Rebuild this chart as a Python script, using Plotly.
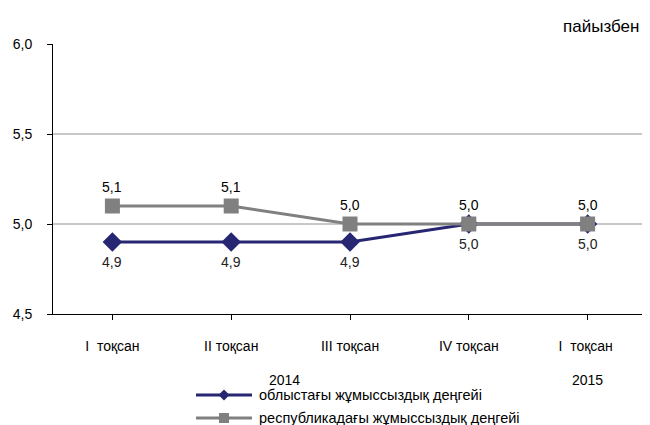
import plotly.graph_objects as go

categories = ["I  тоқсан", "II тоқсан", "III тоқсан", "IV тоқсан", "I  тоқсан "]
years = ["2014", "2015"]
oblast = [4.9, 4.9, 4.9, 5.0, 5.0]
republic = [5.1, 5.1, 5.0, 5.0, 5.0]
name_oblast = "облыстағы жұмыссыздық деңгейі"
name_rep = "республикадағы жұмыссыздық деңгейі"

BLUE = "#262673"
GRAY = "#808080"
FONT = "Liberation Sans, Arial, sans-serif"

x_idx = list(range(len(categories)))

fig = go.Figure()
fig.add_trace(go.Scatter(
    x=x_idx, y=oblast, mode="lines+markers", name=name_oblast,
    line=dict(color=BLUE, width=3),
    marker=dict(symbol="diamond", size=15, color=BLUE),
    showlegend=False,
))
fig.add_trace(go.Scatter(
    x=x_idx, y=republic, mode="lines+markers", name=name_rep,
    line=dict(color=GRAY, width=3),
    marker=dict(symbol="square", size=15, color=GRAY),
    showlegend=False,
))

def fmt(v):
    return f"{v:.1f}".replace(".", ",")

annotations = []
for i, v in enumerate(republic):
    annotations.append(dict(x=i, y=v, text=fmt(v), showarrow=False, yshift=19,
                            font=dict(family=FONT, size=14, color="#000000")))
for i, v in enumerate(oblast):
    annotations.append(dict(x=i, y=v, text=fmt(v), showarrow=False, yshift=-20,
                            font=dict(family=FONT, size=14, color="#222222")))
annotations.append(dict(x=1.45, y=-0.245, yref="paper", yanchor="middle", text=years[0],
                        showarrow=False, font=dict(family=FONT, size=14, color="#000000")))
annotations.append(dict(x=4, y=-0.245, yref="paper", yanchor="middle", text=years[1],
                        showarrow=False, font=dict(family=FONT, size=14, color="#000000")))
annotations.append(dict(x=1.0, y=1.0, xref="paper", yref="paper", xanchor="right", yanchor="bottom",
                        yshift=6, xshift=-6, text="пайызбен", showarrow=False,
                        font=dict(family=FONT, size=17, color="#000000")))

# custom legend (paper coordinates; plot area spans 594 x 270 px)
PW, PH = 594.0, 270.0
def px_x(p):
    return (p - 53) / PW
def px_y(p):
    return (314 - p) / PH

shapes = []
legend_items = [
    (name_oblast, BLUE, "diamond", 395),
    (name_rep, GRAY, "square", 418),
]
for name, color, sym, yy in legend_items:
    shapes.append(dict(type="line", xref="paper", yref="paper",
                       x0=px_x(196), x1=px_x(252), y0=px_y(yy), y1=px_y(yy),
                       line=dict(color=color, width=3)))
    cx, cy = 224, yy
    if sym == "diamond":
        h = 5.5
        path = (f"M {px_x(cx - h)} {px_y(cy)} L {px_x(cx)} {px_y(cy - h)} "
                f"L {px_x(cx + h)} {px_y(cy)} L {px_x(cx)} {px_y(cy + h)} Z")
        shapes.append(dict(type="path", xref="paper", yref="paper", path=path,
                           fillcolor=color, line=dict(color=color, width=0)))
    else:
        h = 5
        shapes.append(dict(type="rect", xref="paper", yref="paper",
                           x0=px_x(cx - h), x1=px_x(cx + h), y0=px_y(cy - h), y1=px_y(cy + h),
                           fillcolor=color, line=dict(color=color, width=0)))
    annotations.append(dict(x=px_x(257), y=px_y(yy), xref="paper", yref="paper",
                            xanchor="left", yanchor="middle", text=name, showarrow=False,
                            font=dict(family=FONT, size=14.5, color="#000000")))

# page body has an 8px margin, so the figure is sized to fit the 650x425 window
fig.update_layout(
    width=642, height=417,
    margin=dict(l=45, r=3, t=36, b=111, autoexpand=False),
    paper_bgcolor="white", plot_bgcolor="white",
    separators=", ",
    font=dict(family=FONT, size=14, color="#000000"),
    showlegend=False,
    annotations=annotations,
    shapes=shapes,
    xaxis=dict(
        tickmode="array", tickvals=x_idx, ticktext=categories,
        range=[-0.5, len(categories) - 0.5],
        showgrid=False, zeroline=False, automargin=False,
        showline=True, linecolor="#000000", linewidth=1,
        ticks="outside", ticklen=5, tickcolor="#000000",
        ticklabelstandoff=14, tickson="boundaries",
        tickfont=dict(family=FONT, size=14),
    ),
    yaxis=dict(
        range=[4.5, 6.0], tickvals=[4.5, 5.0, 5.5, 6.0], tickformat=".1f",
        showgrid=True, gridcolor="#C8C8C8", gridwidth=1.5, zeroline=False, automargin=False,
        showline=True, linecolor="#000000", linewidth=1,
        ticks="outside", ticklen=5, tickcolor="#000000",
        ticklabelstandoff=12,
        tickfont=dict(family=FONT, size=14),
    ),
)

fig.write_html("out.html")
